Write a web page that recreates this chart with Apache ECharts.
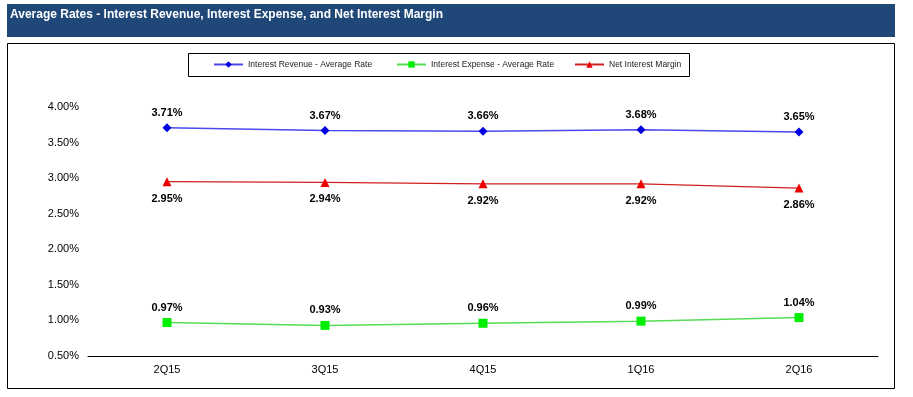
<!DOCTYPE html>
<html>
<head>
<meta charset="utf-8">
<script src="https://cdn.jsdelivr.net/npm/echarts@6/dist/echarts.min.js"></script>
<style>
  html, body { margin: 0; padding: 0; background: #fff; }
  #chart { width: 913px; height: 397px; }
</style>
</head>
<body>
<div id="chart"></div>
<script>
  var quarters = ['2Q15', '3Q15', '4Q15', '1Q16', '2Q16'];
  var revenueRate = [3.71, 3.67, 3.66, 3.68, 3.65];
  var expenseRate = [0.97, 0.93, 0.96, 0.99, 1.04];
  var netMargin = [2.95, 2.94, 2.92, 2.92, 2.86];

  var myChart = echarts.init(document.getElementById('chart'));

  // label style shared by the three series
  function pctLabel(pos, dist) {
    return {
      show: true,
      position: pos,
      distance: dist,
      color: '#000',
      fontFamily: 'Arial, Liberation Sans',
      fontWeight: 'bold',
      fontSize: 11,
      formatter: function (p) { return p.value.toFixed(2) + '%'; }
    };
  }

  // one legend per item so each sits where it does in the original
  function legendItem(name, left) {
    return {
      left: left,
      top: 60,
      padding: 0,
      itemWidth: 29,
      itemHeight: 8,
      textStyle: { fontFamily: 'Arial, Liberation Sans', fontSize: 8.5, color: '#222' },
      data: [name]
    };
  }

  var option = {
    animation: false,
    graphic: [
      { type: 'rect', shape: { x: 7, y: 4, width: 888, height: 33 }, style: { fill: '#1f4879' } },
      { type: 'text', left: 10, top: 9, style: { text: 'Average Rates - Interest Revenue, Interest Expense, and Net Interest Margin', fill: '#fff', font: 'bold 12px Arial, Liberation Sans' } },
      { type: 'rect', shape: { x: 7.5, y: 43.5, width: 887, height: 345 }, style: { fill: 'none', stroke: '#000', lineWidth: 1 } },
      { type: 'rect', shape: { x: 188.5, y: 53.5, width: 501, height: 23 }, style: { fill: 'none', stroke: '#000', lineWidth: 1 } }
    ],
    legend: [
      legendItem('Interest Revenue - Average Rate', 213),
      legendItem('Interest Expense - Average Rate', 396),
      legendItem('Net Interest Margin', 574)
    ],
    grid: { left: 88, right: 35, top: 107, bottom: 41 },
    xAxis: {
      type: 'category',
      data: quarters,
      axisLine: { lineStyle: { color: '#000', width: 1 } },
      axisTick: { show: false },
      axisLabel: { color: '#000', fontFamily: 'Arial, Liberation Sans', fontSize: 11, margin: 8 }
    },
    yAxis: {
      type: 'value',
      min: 0.5,
      max: 4,
      interval: 0.5,
      splitLine: { show: false },
      axisLine: { show: false },
      axisTick: { show: false },
      axisLabel: {
        color: '#000', fontFamily: 'Arial, Liberation Sans', fontSize: 11, margin: 9,
        formatter: function (v) { return v.toFixed(2) + '%'; }
      }
    },
    series: [
      {
        name: 'Interest Revenue - Average Rate',
        type: 'line',
        data: revenueRate,
        symbol: 'diamond',
        symbolSize: 9,
        itemStyle: { color: '#0000e0' },
        lineStyle: { color: '#4a4af0', width: 1.5 },
        label: pctLabel('top', 5)
      },
      {
        name: 'Interest Expense - Average Rate',
        type: 'line',
        data: expenseRate,
        symbol: 'rect',
        symbolSize: 9,
        itemStyle: { color: '#00ee00' },
        lineStyle: { color: '#55dd55', width: 1.5 },
        label: pctLabel('top', 5)
      },
      {
        name: 'Net Interest Margin',
        type: 'line',
        data: netMargin,
        symbol: 'triangle',
        symbolSize: 9,
        itemStyle: { color: '#ee0000' },
        lineStyle: { color: '#d02020', width: 1.2 },
        label: pctLabel('bottom', 7)
      }
    ]
  };
  myChart.setOption(option);
</script>
</body>
</html>
